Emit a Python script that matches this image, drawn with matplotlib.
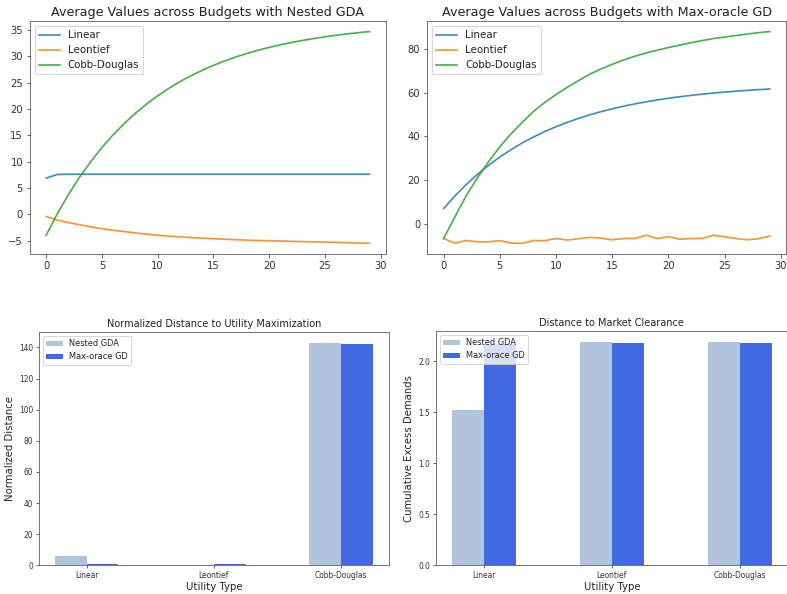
import matplotlib
matplotlib.use("Agg")
import matplotlib.pyplot as plt
import numpy as np

# ---- data ----
iterations = list(range(30))

gda_linear = [6.87, 7.55] + [7.6] * 28
gda_leontief = [-0.45, -1.1, -1.6, -2.0, -2.4, -2.75, -3.05, -3.3, -3.55, -3.8,
                -4.0, -4.15, -4.3, -4.45, -4.55, -4.65, -4.75, -4.85, -4.92, -5.0,
                -5.05, -5.1, -5.15, -5.2, -5.25, -5.3, -5.35, -5.42, -5.48, -5.55]
gda_cobb = [-4.0, 0.1, 3.74, 7.04, 10.0, 12.68, 15.08, 17.24, 19.18, 20.93,
            22.5, 23.92, 25.19, 26.34, 27.37, 28.29, 29.13, 29.88, 30.55, 31.16,
            31.71, 32.2, 32.64, 33.04, 33.39, 33.72, 34.01, 34.27, 34.5, 34.71]

mo_linear = [7.0, 12.76, 17.95, 22.61, 26.8, 30.58, 33.97, 37.03, 39.78, 42.25,
             44.47, 46.47, 48.27, 49.89, 51.35, 52.66, 53.84, 54.89, 55.85, 56.71,
             57.48, 58.18, 58.8, 59.36, 59.87, 60.32, 60.73, 61.1, 61.43, 61.73]
mo_leontief = [-6.7, -8.8, -7.6, -8.2, -8.2, -7.7, -8.8, -8.95, -7.6, -7.7,
               -6.7, -7.4, -6.8, -6.2, -6.5, -7.3, -6.7, -6.7, -5.2, -6.7,
               -5.9, -7.0, -6.7, -6.7, -5.2, -5.9, -6.7, -7.3, -6.8, -5.6]
mo_cobb = [-6.7, 3.1, 12.8, 21.0, 28.5, 35.3, 41.2, 46.5, 51.5, 55.6,
           59.2, 62.5, 65.6, 68.5, 70.9, 73.0, 75.0, 76.7, 78.2, 79.5,
           80.7, 81.8, 82.9, 83.9, 84.8, 85.5, 86.2, 86.9, 87.5, 88.0]

utility_types = ["Linear", "Leontief", "Cobb-Douglas"]
dist_util_gda = [6.2, 0.4, 142.8]
dist_util_mo = [0.6, 0.6, 142.3]
excess_gda = [1.516, 2.185, 2.185]
excess_mo = [2.166, 2.179, 2.172]

methods = ["Nested GDA", "Max-orace GD"]
bar_colors = ["lightsteelblue", "royalblue"]

# ---- style ----
DPI = 72
plt.rcParams.update({
    "axes.edgecolor": "#555555",
    "xtick.color": "#444444",
    "ytick.color": "#444444",
    "xtick.labelcolor": "#333333",
    "ytick.labelcolor": "#333333",
    "text.color": "#222222",
    "axes.labelcolor": "#222222",
})

fig = plt.figure(figsize=(787 / DPI, 594 / DPI), dpi=DPI)

W, H = 787.0, 594.0
def pos(l, t, r, b):
    return [l / W, 1 - b / H, (r - l) / W, (b - t) / H]

ax1 = fig.add_axes(pos(30, 21, 385.7, 254))
ax2 = fig.add_axes(pos(427.3, 21, 786, 254))
ax3 = fig.add_axes(pos(39, 332, 388.7, 565.3))
ax4 = fig.add_axes(pos(436, 331, 787.6, 565.3))

lw = 1.7
for ax, lin, leo, cob, title in [
    (ax1, gda_linear, gda_leontief, gda_cobb, "Average Values across Budgets with Nested GDA"),
    (ax2, mo_linear, mo_leontief, mo_cobb, "Average Values across Budgets with Max-oracle GD"),
]:
    ax.plot(iterations, lin, color="tab:blue", lw=lw, alpha=0.85, label="Linear")
    ax.plot(iterations, leo, color="tab:orange", lw=lw, alpha=0.85, label="Leontief")
    ax.plot(iterations, cob, color="tab:green", lw=lw, alpha=0.85, label="Cobb-Douglas")
    ax.set_title(title, fontsize=12.7, pad=5)
    ax.tick_params(labelsize=10, length=3.5, pad=3.5)
    ax.legend(loc="upper left", fontsize=10.2)
    ax.set_xticks([0, 5, 10, 15, 20, 25, 30])

x = np.arange(len(utility_types))
bw = 0.25
for ax, g, m, title, ylabel in [
    (ax3, dist_util_gda, dist_util_mo, "Normalized Distance to Utility Maximization", "Normalized Distance"),
    (ax4, excess_gda, excess_mo, "Distance to Market Clearance", "Cumulative Excess Demands"),
]:
    ax.bar(x - bw / 2, g, bw, color=bar_colors[0], label=methods[0])
    ax.bar(x + bw / 2, m, bw, color=bar_colors[1], label=methods[1])
    ax.set_xticks(x)
    ax.set_xticklabels(utility_types)
    ax.set_title(title, fontsize=9.7, pad=5)
    ax.set_xlabel("Utility Type", fontsize=10.1, labelpad=2)
    ax.set_ylabel(ylabel, fontsize=10.1, labelpad=4)
    ax.tick_params(labelsize=7.5, length=3, pad=3)
    ax.legend(loc="upper left", fontsize=8.2)

fig.savefig("out.png", dpi=DPI)
